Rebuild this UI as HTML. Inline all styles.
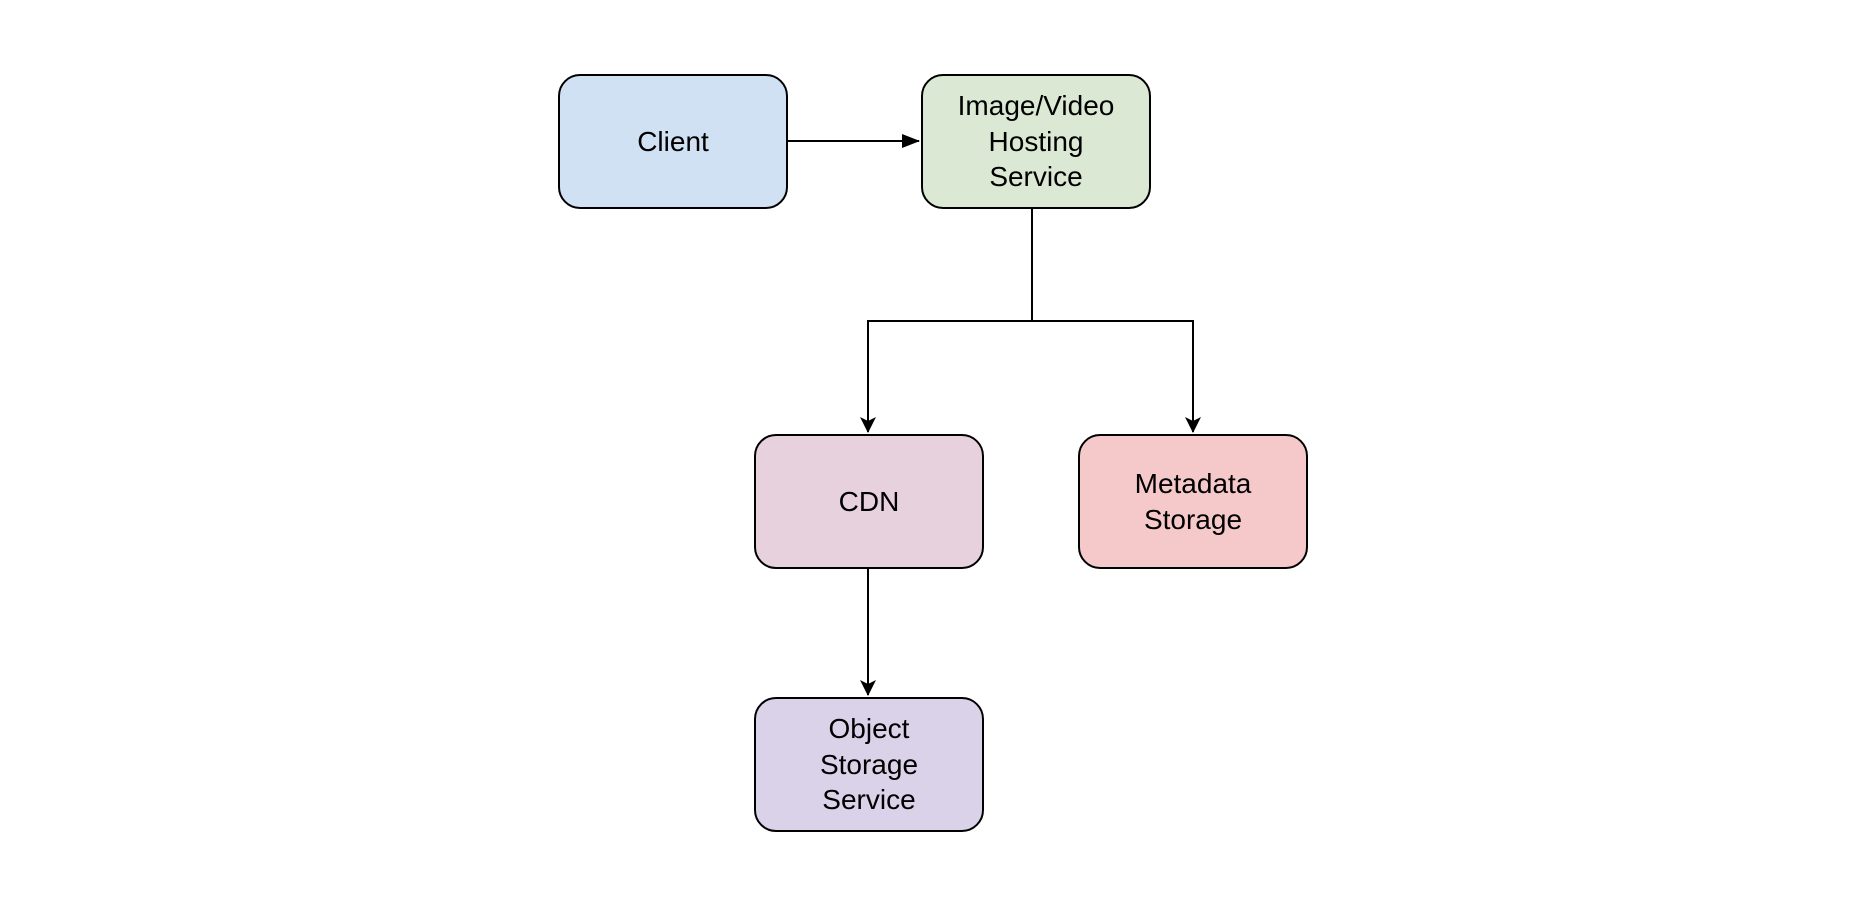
<!DOCTYPE html>
<html><head><style>
html,body{margin:0;padding:0;background:#fff;width:1864px;height:912px;overflow:hidden}
.b{position:absolute;box-sizing:border-box;border:2px solid #000;border-radius:22px;display:flex;align-items:center;justify-content:center;text-align:center;font-family:"Liberation Sans",sans-serif;font-size:28px;line-height:35.7px;color:#000}
svg{position:absolute;left:0;top:0}
</style></head><body>
<svg width="1864" height="912">
<defs>
<marker id="f" markerWidth="18" markerHeight="14" refX="17" refY="7" orient="auto" markerUnits="userSpaceOnUse"><path d="M0,0 L18,7 L0,14 Z" fill="#000"/></marker>
<marker id="o" markerWidth="16" markerHeight="18" refX="15" refY="8" orient="auto" markerUnits="userSpaceOnUse"><path d="M0,0 L16,8 L0,16 L4,8 Z" fill="#000"/></marker>
</defs>
<g stroke="#000" stroke-width="2" fill="none">
<path d="M787,141 H919" marker-end="url(#f)"/>
<path d="M1032,208 V321 H868 V432" marker-end="url(#o)"/>
<path d="M1032,321 H1193 V432" marker-end="url(#o)"/>
<path d="M868,568 V695" marker-end="url(#o)"/>
</g>
</svg>
<div class="b" style="left:558px;top:74px;width:230px;height:135px;background:#d0e1f3">Client</div>
<div class="b" style="left:921px;top:74px;width:230px;height:135px;background:#dae8d4">Image/Video<br>Hosting<br>Service</div>
<div class="b" style="left:754px;top:434px;width:230px;height:135px;background:#e7d1dc">CDN</div>
<div class="b" style="left:1078px;top:434px;width:230px;height:135px;background:#f5c9ca">Metadata<br>Storage</div>
<div class="b" style="left:754px;top:697px;width:230px;height:135px;background:#dad2e9">Object<br>Storage<br>Service</div>
</body></html>
